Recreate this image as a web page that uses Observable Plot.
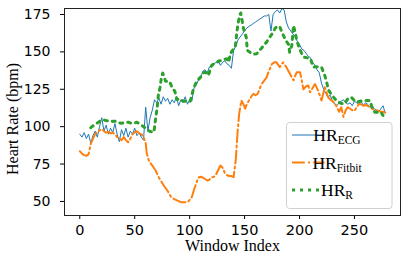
<!DOCTYPE html>
<html>
<head>
<meta charset="utf-8">
<script src="https://cdn.jsdelivr.net/npm/d3@7"></script>
<script src="https://cdn.jsdelivr.net/npm/@observablehq/plot@0.6"></script>
<style>
  html, body { margin: 0; padding: 0; background: #fff; }
  #chart svg { display: block; }
</style>
</head>
<body>
<div id="chart"></div>
<script>
// ---- data ----
const xTicks = [0, 50, 100, 150, 200, 250];
const yTicks = [50, 75, 100, 125, 150, 175];
const seriesNames = ["ECG", "Fitbit", "R"];

// HR_ECG, one value every 2 windows starting at window 0
const ecgWindow = d3.range(0, 279, 2);
const ecgHR = [
  95, 93, 96, 92, 95, 89, 94, 97, 93, 100,
  106, 97, 101, 95, 99, 96, 102, 95, 90, 98,
  94, 99, 93, 97, 95, 99, 94, 96, 93, 91,
  113, 97, 106, 111, 118, 116, 119, 115, 120, 117,
  119, 115, 118, 116, 120, 114, 118, 116, 120, 115,
  118, 117, 126, 128, 131, 133, 137, 138, 136, 140,
  141, 142, 143, 144, 141, 143, 144, 142, 141, 139,
  151, 154, 158, 160, 162, 164, 166, 167, 168, 169,
  170, 171, 172, 173, 174, 174, 175, 164, 175, 177,
  178, 176, 179, 178, 170, 166, 164, 162, 160, 157,
  155, 152, 151, 149, 147, 146, 143, 141, 138, 136,
  129, 125, 122, 120, 121, 117, 115, 114, 116, 117,
  118, 116, 115, 116, 114, 117, 116, 115, 117, 114,
  116, 115, 113, 114, 112, 111, 110, 112, 114, 109
];

// HR_Fitbit
const fitbitWindow = [0,2,4,6,8,10,12,14,16,18,20,22,24,26,28,30,32,34,36,38,40,42,44,46,48,50,52,54,56,58,60,61,63,66,69,72,74,77,80,83,86,89,92,95,98,100,102,104,106,108,110,112,114,116,118,120,122,124,126,128,130,132,134,136,138,140,142,143.5,145,147,149,150.5,152,154,156,158,160,162,164,166,168,170,172,175,177,179,182,185,188,190,193,194.5,196,197.5,200.5,202,203.5,206,208,209.6,212,214,217,220,223,226,229,232,234,236,238,240,242,244,246,248,250,252,254,256,258,260,262,264,266,268,270,272,274,276,278];
const fitbitHR = [83.6,82,81,80.5,81.5,88.5,92,95,96.5,97.5,98.5,97,96,96.5,95.5,96,95,93,92,91,93,91,89.6,92,95,96.3,97,95.5,95,93,89,82,77,74,70.7,66,63.5,60,57,53,51.5,50.5,49.5,49.5,49.5,51,53,58,62,66,66.5,66,65,64,64.5,66,66.5,68,71,74,72.5,69,67.5,67,67,66.2,78,95,108,117.5,115,112,115,117.5,120,122,121,122,126,129,131,133,137,142,143,143,139.8,143,139.8,137,133,131,134,136.4,136.4,131,125,127,127.5,123,126,128.5,124,117.5,126.4,119.7,117.5,116,113,110,113,106.5,111,113,112,111,110.5,113,115,115,114,114.5,114,113,112,111.5,111,110.5,110,110,109.5];

// HR_R
const rWindow = [10,12,14,16,18,20,22,24,26,28,30,32,34,36,38,40,42,44,46,48,50,52,54,56,58,60,62,64,66,67.5,69,70.5,71.5,73,74,75.5,77,78,80,82,84,86.5,88.5,90,92,94.5,97,100.5,103.5,105,107,110,113,115,117,120,122,125,127,129.5,132,134,135.5,137,139,141.5,143,144,145.5,146.5,148,149,151.5,152.5,154.5,156.5,159,161,163,166,168,170,172,175,178,180,182,184,186,188,190,191,193,194.5,196,197.5,200,202,204,207,210,212.5,215,218,220,223,225,226.5,229,231,233,235.5,238,241,244,247,250,252,255,258,261,264,266,268.5,271,274,276];
const rHR = [99.3,100.5,101.5,102.5,103.5,104,104.5,104,104,104,103.5,103.7,103,102.5,102.3,102.5,103,103,102.5,102.3,102.5,103,102,101,100,99,97.5,96.8,96.5,96.3,105.3,113,121,126,131.3,135.8,133,130.4,130.4,130,126,123.7,118,118.6,118,117,117,117,125.3,128,130.9,133.1,136.4,136,134.2,140.9,142,143.1,144,144.3,145,145.4,143.1,148.7,151,153.1,163.2,168.8,174.3,176,170,165.4,159.8,151,150,148.7,148.5,148.7,150.5,153,155,156.5,159,162,166,167,167,163,160,157,155,149.8,154.3,167.6,163.2,157.6,152,149,146.5,146,145.4,139.8,140,140,139.8,134.2,128.7,124.2,121.5,119.7,118,116.4,115.5,115.3,118.6,119.7,117.5,116.4,117,117.5,117.5,117.5,113,109.7,109.7,109.7,107.5];

const colors = ["#1f77b4", "#ff7f0e", "#2ca02c"];

const ecg = ecgWindow.map((w, i) => ({w, hr: ecgHR[i]}));
const fitbit = fitbitWindow.map((w, i) => ({w, hr: fitbitHR[i]}));
const hrR = rWindow.map((w, i) => ({w, hr: rHR[i]}));

const tickFont = "DejaVu Sans, sans-serif";
const serif = "Liberation Serif, Times New Roman, serif";
const dotDash = "3,5";
const dashDot = "12.8,3.2,2,3.2";

const chart = Plot.plot({
  width: 409,
  height: 256,
  marginLeft: 64,
  marginRight: 9,
  marginTop: 8,
  marginBottom: 41,
  style: {fontFamily: tickFont, fontSize: "14px", color: "#000", background: "#fff"},
  x: {domain: [-13.9, 291.9]},
  y: {domain: [40.6, 179]},
  marks: [
    Plot.line(ecg, {x: "w", y: "hr", stroke: colors[0], strokeWidth: 1}),
    Plot.line(fitbit, {x: "w", y: "hr", stroke: colors[1], strokeWidth: 2, strokeDasharray: dashDot}),
    Plot.line(hrR, {x: "w", y: "hr", stroke: colors[2], strokeWidth: 3, strokeDasharray: dotDash}),
    Plot.axisX({ticks: xTicks, tickSize: 4, tickPadding: 5, label: null, fontSize: 14.5, fontFamily: tickFont, stroke: "#000"}),
    Plot.axisY({ticks: yTicks, tickSize: 4, tickPadding: 10, label: null, fontSize: 14, fontFamily: tickFont, stroke: "#000"}),
    Plot.frame({stroke: "#222", strokeWidth: 1})
  ]
});

const svg = d3.select(chart);
// axis labels
svg.append("text").attr("x", 232.5).attr("y", 251).attr("text-anchor", "middle")
  .attr("font-family", serif).attr("font-size", 16).attr("fill", "#000").text("Window Index");
svg.append("text").attr("transform", "translate(18,119) rotate(-90)").attr("text-anchor", "middle")
  .attr("font-family", serif).attr("font-size", 16).attr("fill", "#000").text("Heart Rate (bpm)");

// legend
const lg = svg.append("g");
lg.append("rect").attr("x", 286.5).attr("y", 122.5).attr("width", 105.5).attr("height", 86)
  .attr("rx", 3).attr("fill", "#fff").attr("fill-opacity", 0.8).attr("stroke", "#d0d0d0").attr("stroke-width", 1);
const rows = [135, 162.5, 190];
const dashes = [null, dashDot, dotDash];
const widths = [1, 2, 3];
seriesNames.forEach((name, i) => {
  const l = lg.append("line").attr("x1", 292).attr("x2", 324.5).attr("y1", rows[i]).attr("y2", rows[i])
    .attr("stroke", colors[i]).attr("stroke-width", widths[i]);
  if (dashes[i]) l.attr("stroke-dasharray", dashes[i]);
  const t = lg.append("text").attr("x", 337).attr("y", rows[i] + 6)
    .attr("font-family", serif).attr("font-size", 17.5).attr("fill", "#000");
  t.append("tspan").text("HR");
  t.append("tspan").attr("font-size", 11.5).attr("dy", 3.3).text(name);
});

document.getElementById("chart").appendChild(chart);
</script>
</body>
</html>
